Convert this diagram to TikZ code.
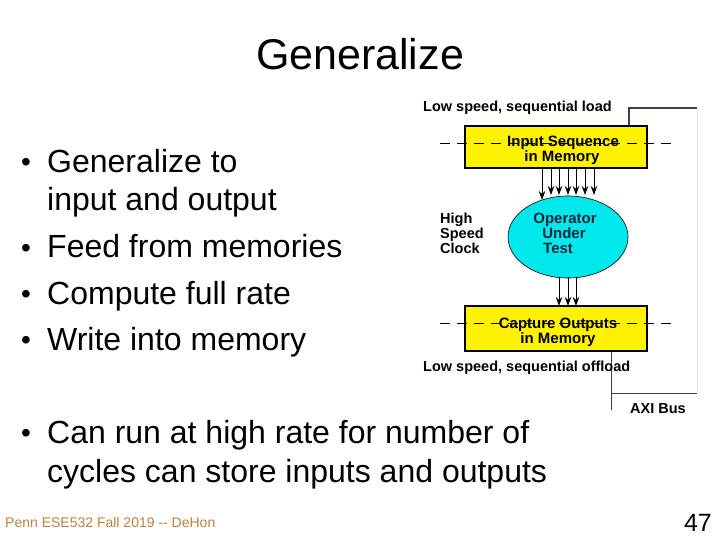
\documentclass[tikz,border=0pt]{standalone}
\usepackage{fontspec}
\setmainfont{Liberation Sans}
\usetikzlibrary{arrows.meta,shapes.geometric}
\definecolor{footc}{RGB}{192,128,64}
\definecolor{opfill}{RGB}{0,232,236}
\definecolor{optext}{RGB}{0,40,60}
\definecolor{wire}{RGB}{64,64,64}
\definecolor{lightwire}{RGB}{225,225,225}
\tikzset{
  bul/.style={anchor=base west,inner sep=0pt,font=\fontsize{32}{38}\selectfont},
  bdot/.style={anchor=base,inner sep=0pt,font=\fontsize{28}{30}\selectfont},
  dlab/.style={anchor=base west,inner sep=0pt,font=\fontsize{14.5}{16}\selectfont\bfseries},
  blab/.style={anchor=base,inner sep=0pt,font=\fontsize{15}{16}\selectfont\bfseries},
  memorybox/.style={draw=black,line width=1.2pt,fill=yellow},
  dashline/.style={line width=0.8pt,dash pattern=on 10pt off 7pt},
  arr/.style={line width=1pt,-{Stealth[length=9pt,width=6.5pt]}},
}
\begin{document}
\begin{tikzpicture}[x=1pt,y=-1pt]
\useasboundingbox (0,0) rectangle (720,540);
% title
\node[anchor=base,inner sep=0pt,font=\fontsize{43}{50}\selectfont] (title) at (360,70) {Generalize};
% bullets
\node[bdot] (b1) at (26,172) {•};
\node[bul] (t1) at (47,173) {Generalize to};
\node[bul] (t1b) at (47,211) {input and output};
\node[bdot] (b2) at (26,257) {•};
\node[bul] (t2) at (47,258) {Feed from memories};
\node[bdot] (b3) at (26,303) {•};
\node[bul] (t3) at (47,304) {Compute full rate};
\node[bdot] (b4) at (26,349) {•};
\node[bul] (t4) at (47,350) {Write into memory};
\node[bdot] (b5) at (26,442) {•};
\node[bul] (t5) at (47,443) {Can run at high rate for number of};
\node[bul] (t5b) at (47,482) {cycles can store inputs and outputs};
% footer
\node[anchor=base west,inner sep=0pt,text=footc,font=\fontsize{14}{16}\selectfont] (foot) at (5,527) {Penn ESE532 Fall 2019 {-}{-} DeHon};
\node[anchor=base east,inner sep=0pt,font=\fontsize{25}{28}\selectfont] (pnum) at (712,531) {47};
% diagram
\coordinate (tl) at (629,108);
\coordinate (tr) at (697,108);
\coordinate (br) at (697,393);
\coordinate (bl) at (611,393);
\coordinate (bb) at (611,410);
\draw[lightwire,line width=1pt] (tr) -- (br);
\node[memorybox,minimum width=182,minimum height=42,inner sep=0pt] (inmem) at (556,147) {};
\node[memorybox,minimum width=182,minimum height=45,inner sep=0pt] (outmem) at (556,328.5) {};
\draw[wire,line width=1.5pt] (inmem.north -| tl) -- (tl) -- (tr);
\draw[wire,line width=1pt] (outmem.south -| bl) -- (bb);
\draw[wire,line width=1pt] (bl) -- (br);
\coordinate (d1a) at (440,143); \coordinate (d1b) at (672,143);
\coordinate (d2a) at (440,323); \coordinate (d2b) at (672,323);
\draw[dashline] (d1a) -- (d1b);
\draw[dashline] (d2a) -- (d2b);
\node[blab] (in1) at (563,147) {Input Sequence};
\node[blab] (in2) at (562,161.5) {in Memory};
\node[blab] (out1) at (558,328) {Capture Outputs};
\node[blab] (out2) at (558,343) {in Memory};
% operator
\node[draw=black,line width=0.6pt,fill=opfill,ellipse,minimum width=120,minimum height=82,inner sep=0pt] (op) at (568,237) {};
\node[blab,text=optext] (op1) at (565,224) {Operator};
\node[blab,text=optext] (op2) at (564,239) {Under};
\node[blab,text=optext,anchor=base west] (op3) at (543,253) {Test};
% arrows in
\draw[arr] (542,168) -- (542,200);
\foreach \x in {551,559,568,576,585,594} \draw[arr] (\x,168) -- (\x,195);
\foreach \x in {559,568,576} \draw[arr] (\x,277) -- (\x,306);
% labels
\node[dlab] (lsl) at (423,112) {Low speed, sequential load};
\node[dlab] (lso) at (423,371) {Low speed, sequential offload};
\node[dlab] (axi) at (630,413) {AXI Bus};
\node[dlab] (hs1) at (440,224) {High};
\node[dlab] (hs2) at (440,239) {Speed};
\node[dlab] (hs3) at (440,253) {Clock};
\end{tikzpicture}
\end{document}
